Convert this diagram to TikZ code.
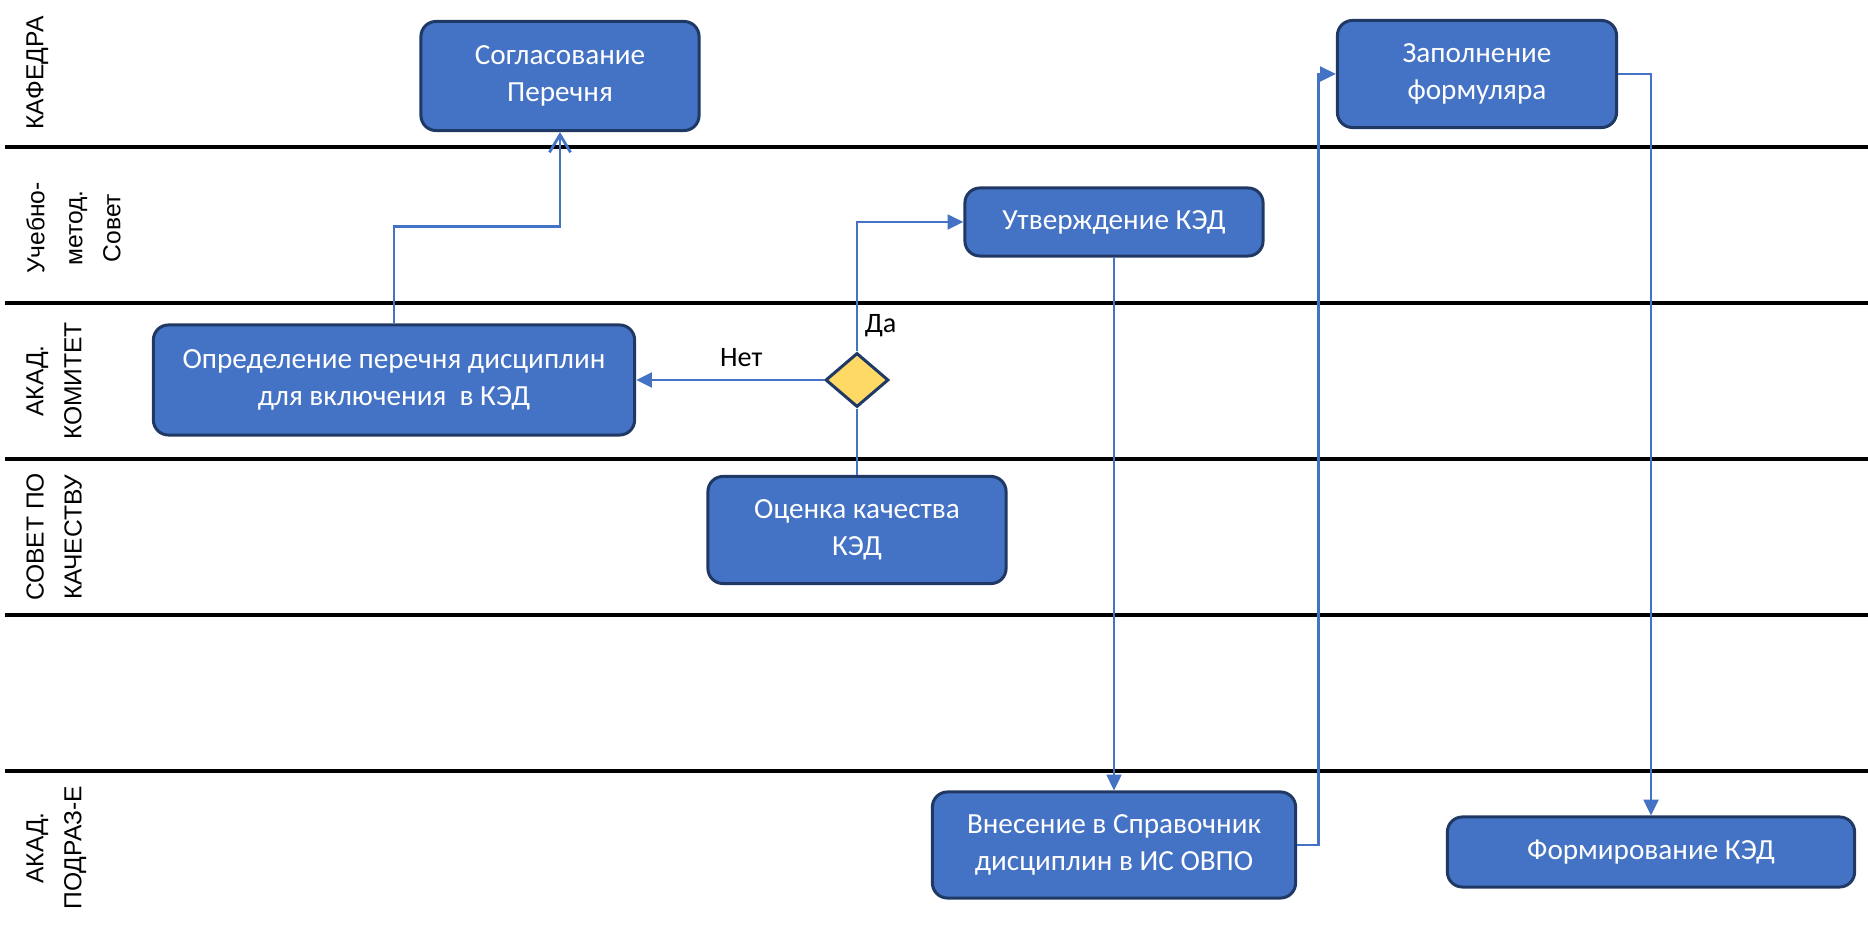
\documentclass[tikz,border=0pt]{standalone}
\usepackage{fontspec}
\setmainfont{Carlito}
\newfontfamily\lanefont{Liberation Sans}
\usetikzlibrary{arrows.meta,positioning,shapes.geometric,calc}
\definecolor{boxblue}{HTML}{4472C4}
\definecolor{boxline}{HTML}{203864}
\definecolor{decyellow}{HTML}{FFD966}

\begin{document}
\begin{tikzpicture}[x=0.01cm,y=-0.01cm,
  box/.style={draw=boxline,line width=0.85pt,fill=boxblue,rounded corners=0.15cm,
    text=white,align=center,inner sep=0pt,font=\fontsize{8.3}{10.5}\selectfont},
  lane/.style={rotate=90,anchor=north,align=center,font=\lanefont\fontsize{7}{10.8}\selectfont},
  sep/.style={line width=1.1pt},
  flow/.style={draw=boxblue,line width=0.8pt,-{Triangle[length=4.5pt,width=4.2pt]}},
  lbl/.style={font=\fontsize{8}{10}\selectfont}]
\useasboundingbox (0,0) rectangle (1868,925);
% swimlanes
\draw[sep] (5,147)--(1868,147);
\draw[sep] (5,303)--(1868,303);
\draw[sep] (5,459)--(1868,459);
\draw[sep] (5,615)--(1868,615);
\draw[sep] (5,771)--(1868,771);
\node (lab1) at (14,73) [lane] {КАФЕДРА};
\node (lab2) at (14,228) [lane] {Учебно-\\метод.\\Совет};
\node (lab3) at (14,381) [lane] {АКАД.\\КОМИТЕТ};
\node (lab4) at (14,537) [lane] {СОВЕТ ПО\\КАЧЕСТВУ};
\node (lab5) at (14,848) [lane] {АКАД.\\ПОДРАЗ-Е};
% steps
\node (sogl) at (560,76) [box,minimum width=2.78cm,minimum height=1.09cm] {Согласование\\Перечня};
\node (zapoln) at (1477,74) [box,minimum width=2.79cm,minimum height=1.07cm] {Заполнение\\формуляра};
\node (utv) at (1114,222) [box,minimum width=2.98cm,minimum height=0.68cm] {Утверждение КЭД};
\node (opred) at (394,380) [box,minimum width=4.81cm,minimum height=1.1cm] {Определение перечня дисциплин\\для включения \ в КЭД};
\node (dec) at (857,380) [diamond,draw=boxline,fill=decyellow,line width=0.85pt,
  minimum width=0.63cm,minimum height=0.54cm,inner sep=0pt] {};
\node (ocen) at (857,530) [box,minimum width=2.98cm,minimum height=1.07cm] {Оценка качества\\КЭД};
\node (vnes) at (1114,845) [box,minimum width=3.63cm,minimum height=1.06cm] {Внесение в Справочник\\дисциплин в ИС ОВПО};
\node (form) at (1651,852) [box,minimum width=4.07cm,minimum height=0.7cm] {Формирование КЭД};
% connectors
\draw[flow,-{Straight Barb[length=5pt,width=6pt]}] (opred.north) -- ++(0,-97) -| (sogl.south);
\draw[flow] (dec.north) |- node[lbl,pos=0.1,right,xshift=-1.5pt] {Да} (utv.west);
\draw[flow] (dec.west) -- node[lbl,pos=0.44,above] {Нет} (opred.east);
\draw[flow,-] (ocen.north) -- (dec.south);
\draw[flow] (utv.south) -- (vnes.north);
\draw[flow] (vnes.east) -- ++(21,0) |- (zapoln.west);
\draw[flow] (zapoln.east) -| (form.north);
\end{tikzpicture}
\end{document}
